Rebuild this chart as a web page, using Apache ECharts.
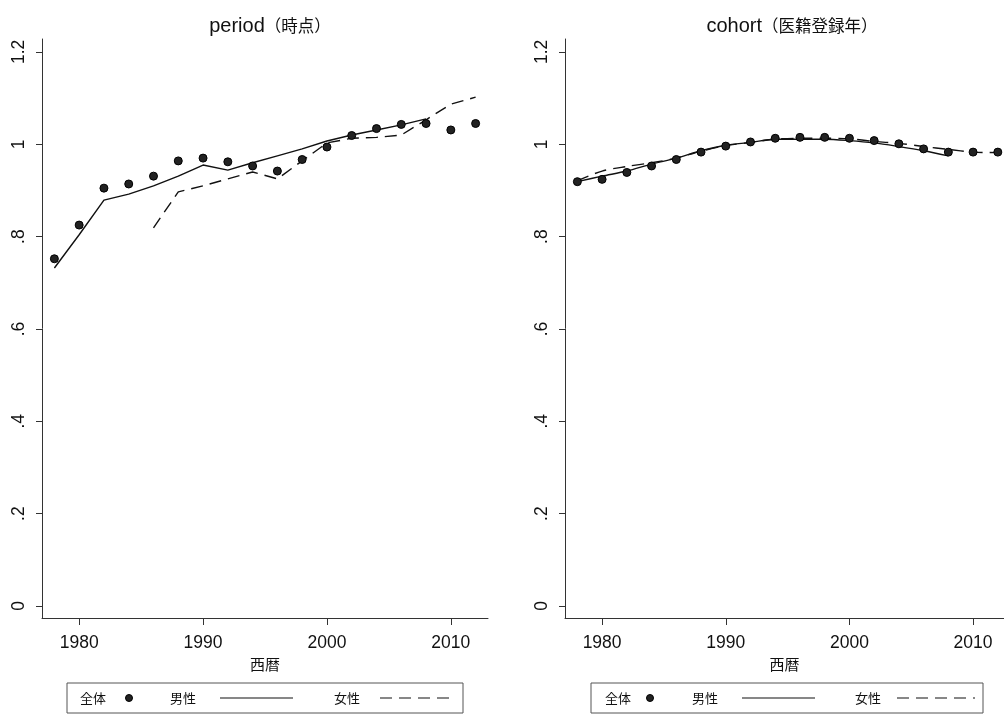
<!DOCTYPE html>
<html>
<head>
<meta charset="utf-8">
<script src="https://cdn.jsdelivr.net/npm/echarts@6/dist/echarts.min.js"></script>
<style>
  html, body { margin: 0; padding: 0; background: #fff; }
  #chart { width: 1004px; height: 720px; }
</style>
</head>
<body>
<div id="chart"></div>
<script>
// Year grid shared by both panels
const years = [1978, 1980, 1982, 1984, 1986, 1988, 1990, 1992, 1994, 1996, 1998, 2000, 2002, 2004, 2006, 2008, 2010, 2012];

// period (時点)
const periodAll = [0.752, 0.825, 0.905, 0.914, 0.931, 0.964, 0.970, 0.962, 0.953, 0.942, 0.967, 0.994, 1.019, 1.034, 1.043, 1.045, 1.031, 1.045];
const periodMaleYears = [1978, 1980, 1982, 1984, 1986, 1988, 1990, 1992, 1994, 1996, 1998, 2000, 2002, 2004, 2006, 2008];
const periodMale = [0.732, 0.804, 0.879, 0.892, 0.910, 0.931, 0.955, 0.944, 0.960, 0.975, 0.990, 1.007, 1.020, 1.031, 1.042, 1.055];
const periodFemaleYears = [1986, 1988, 1990, 1992, 1994, 1996, 1998, 2000, 2002, 2004, 2006, 2008, 2010, 2012];
const periodFemale = [0.819, 0.897, 0.910, 0.925, 0.940, 0.925, 0.964, 1.003, 1.013, 1.015, 1.020, 1.053, 1.087, 1.102];

// cohort (医籍登録年)
const cohortAll = [0.919, 0.924, 0.939, 0.953, 0.967, 0.983, 0.996, 1.005, 1.013, 1.015, 1.015, 1.013, 1.008, 1.001, 0.990, 0.983, 0.983, 0.983];
const cohortMaleYears = [1978, 1980, 1982, 1984, 1986, 1988, 1990, 1992, 1994, 1996, 1998, 2000, 2002, 2004, 2006, 2008];
const cohortMale = [0.919, 0.931, 0.942, 0.957, 0.970, 0.986, 0.998, 1.004, 1.011, 1.011, 1.011, 1.008, 1.003, 0.995, 0.986, 0.975];
const cohortFemale = [0.921, 0.942, 0.952, 0.960, 0.970, 0.985, 0.997, 1.004, 1.011, 1.013, 1.013, 1.012, 1.006, 1.002, 0.995, 0.989, 0.983, 0.982];

// Axis ticks and labels
const xTicks = [1980, 1990, 2000, 2010];
const yTicks = [0, 0.2, 0.4, 0.6, 0.8, 1, 1.2];
const yTickLabels = ['0', '.2', '.4', '.6', '.8', '1', '1.2'];

const panelTitles = ['period', 'cohort'];
const panelSubtitles = ['（時点）', '（医籍登録年）'];
const xAxisTitle = '西暦';
const legendNames = ['全体', '男性', '女性'];

const LATIN = '"Liberation Sans", Arial, sans-serif';
const CJK = '"Noto Sans CJK JP", "Liberation Sans", sans-serif';
const INK = '#111';
const AXIS = '#333';
const DOT = '#222';

const pair = (xs, ys) => xs.map((x, i) => [x, ys[i]]);

function yLabel(v) {
  const i = yTicks.findIndex(t => Math.abs(t - v) < 1e-6);
  return i >= 0 ? yTickLabels[i] : '';
}

function xAxisFor(gridIndex, max) {
  return {
    type: 'value', gridIndex, min: 1977, max,
    name: xAxisTitle, nameLocation: 'middle', nameGap: 39,
    nameTextStyle: { fontFamily: CJK, fontSize: 15, color: INK },
    axisLine: { show: true, onZero: false, lineStyle: { color: AXIS, width: 1 } },
    axisTick: { show: true, inside: false, length: 7, customValues: xTicks, lineStyle: { color: AXIS } },
    axisLabel: { customValues: xTicks, margin: 16, fontFamily: LATIN, fontSize: 17.5, color: INK, formatter: v => String(v) },
    splitLine: { show: false }
  };
}

function yAxisFor(gridIndex) {
  return {
    type: 'value', gridIndex, min: -0.026, max: 1.228,
    axisLine: { show: true, onZero: false, lineStyle: { color: AXIS, width: 1 } },
    axisTick: { show: true, inside: false, length: 6, customValues: yTicks, lineStyle: { color: AXIS } },
    axisLabel: { customValues: yTicks, rotate: 90, margin: 14, fontFamily: LATIN, fontSize: 17.5, color: INK, formatter: yLabel },
    splitLine: { show: false }
  };
}

function panelSeries(idx, all, maleXs, male, femaleXs, female) {
  return [
    {
      name: legendNames[0], type: 'scatter', xAxisIndex: idx, yAxisIndex: idx,
      data: pair(years, all), symbol: 'circle', symbolSize: 8, z: 3,
      itemStyle: { color: DOT, borderColor: '#000', borderWidth: 1, opacity: 1 }
    },
    {
      name: legendNames[1], type: 'line', xAxisIndex: idx, yAxisIndex: idx,
      data: pair(maleXs, male), showSymbol: false, smooth: idx === 1 ? 0.3 : false,
      lineStyle: { color: INK, width: 1.4, type: 'solid' }
    },
    {
      name: legendNames[2], type: 'line', xAxisIndex: idx, yAxisIndex: idx,
      data: pair(femaleXs, female), showSymbol: false, smooth: idx === 1 ? 0.3 : false,
      lineStyle: { color: INK, width: 1.4, type: [12, 7] }
    }
  ];
}

// Legend boxes drawn below each panel: label, then its key mark
function legendBox(x0, x1, pos) {
  const cy = 698;
  const txt = (x, s) => ({
    type: 'text', x, y: cy,
    style: { text: s, font: '13px ' + CJK, fill: INK, textVerticalAlign: 'middle', textAlign: 'left' }
  });
  return [
    { type: 'rect', shape: { x: x0, y: 683, width: x1 - x0, height: 30 }, style: { fill: '#fff', stroke: '#555', lineWidth: 1 } },
    txt(pos.t0, legendNames[0]),
    { type: 'circle', shape: { cx: pos.dot, cy, r: 3.5 }, style: { fill: DOT, stroke: '#000', lineWidth: 1 } },
    txt(pos.t1, legendNames[1]),
    { type: 'line', shape: { x1: pos.s0, y1: cy, x2: pos.s1, y2: cy }, style: { stroke: INK, lineWidth: 1.2 } },
    txt(pos.t2, legendNames[2]),
    { type: 'line', shape: { x1: pos.d0, y1: cy, x2: pos.d1, y2: cy }, style: { stroke: INK, lineWidth: 1.2, lineDash: [12, 7] } }
  ];
}

const chart = echarts.init(document.getElementById('chart'), null, { renderer: 'canvas' });

const titleRich = {
  a: { fontFamily: LATIN, fontSize: 20, fontWeight: 'normal', color: INK },
  b: { fontFamily: CJK, fontSize: 16.5, fontWeight: 'normal', color: INK }
};

chart.setOption({
  backgroundColor: '#fff',
  animation: false,
  title: [
    { text: '{a|' + panelTitles[0] + '}{b|' + panelSubtitles[0] + '}', left: 265, top: 11, textAlign: 'center', textStyle: { fontWeight: 'normal', rich: titleRich } },
    { text: '{a|' + panelTitles[1] + '}{b|' + panelSubtitles[1] + '}', left: 787, top: 11, textAlign: 'center', textStyle: { fontWeight: 'normal', rich: titleRich } }
  ],
  grid: [
    { left: 42, top: 39, width: 446, bottom: 102 },
    { left: 565, top: 39, right: 0, bottom: 102 }
  ],
  xAxis: [xAxisFor(0, 2013), xAxisFor(1, 2012.5)],
  yAxis: [yAxisFor(0), yAxisFor(1)],
  series: [
    ...panelSeries(0, periodAll, periodMaleYears, periodMale, periodFemaleYears, periodFemale),
    ...panelSeries(1, cohortAll, cohortMaleYears, cohortMale, years, cohortFemale)
  ],
  graphic: [
    ...legendBox(67, 463, { t0: 80, dot: 129, t1: 170, s0: 220, s1: 293, t2: 334, d0: 380, d1: 455 }),
    ...legendBox(591, 983, { t0: 605, dot: 650, t1: 692, s0: 742, s1: 815, t2: 855, d0: 897, d1: 975 })
  ]
});
</script>
</body>
</html>
